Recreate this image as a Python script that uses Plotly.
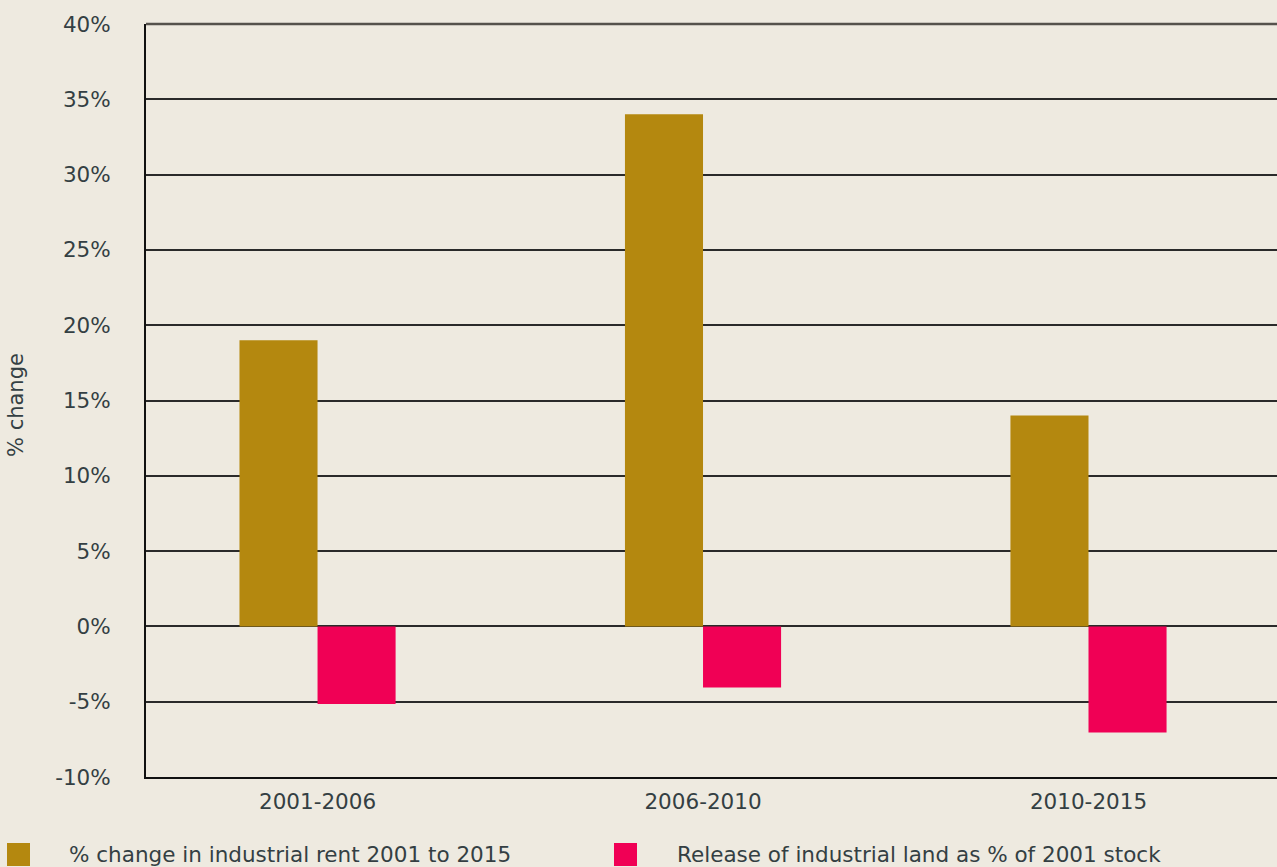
import plotly.graph_objects as go

# Periods and the two series (percent)
periods = ["2001-2006", "2006-2010", "2010-2015"]
rent_change = [19.0, 34.0, 14.0]
land_release = [-5.15, -4.05, -7.05]

series_names = [
    "% change in industrial rent 2001 to 2015",
    "Release of industrial land as % of 2001 stock",
]
y_ticks = [-10, -5, 0, 5, 10, 15, 20, 25, 30, 35, 40]
y_tick_text = [f"{v}%" for v in y_ticks]
y_title = "% change"

GOLD = "#b4880f"
PINK = "#f00055"
BG = "#eeeae0"
TEXT = "#343f43"
GRID = "#2a2a2a"
FONT = "DejaVu Sans"

W, H = 1277, 867
M_L, M_R, M_T, M_B = 146, 0, 24, 90
PW, PH = W - M_L - M_R, H - M_T - M_B


def px_x(px):
    return (px - M_L) / PW


def px_y(py):
    return (H - M_B - py) / PH


fig = go.Figure()
fig.add_trace(go.Bar(x=periods, y=rent_change, name=series_names[0],
                     marker=dict(color=GOLD, line=dict(width=0))))
fig.add_trace(go.Bar(x=periods, y=land_release, name=series_names[1],
                     marker=dict(color=PINK, line=dict(width=0))))

# Legend drawn beneath the plot: colour swatch + label
legend_items = [(GOLD, 7, 67, series_names[0]), (PINK, 614, 675, series_names[1])]
shapes = []
annotations = []
for color, sx, tx, label in legend_items:
    shapes.append(dict(type="rect", xref="paper", yref="paper",
                       x0=px_x(sx), x1=px_x(sx + 23), y0=px_y(866), y1=px_y(843),
                       fillcolor=color, line=dict(width=0), layer="above"))
    annotations.append(dict(text=label, xref="paper", yref="paper",
                            x=px_x(tx), y=px_y(855), xanchor="left", yanchor="middle",
                            showarrow=False, font=dict(family=FONT, size=21.5, color=TEXT)))

# Rotated axis title at the far left
annotations.append(dict(text=y_title, xref="paper", yref="paper",
                        x=px_x(16), y=px_y(405), xanchor="center", yanchor="middle",
                        textangle=-90, showarrow=False,
                        font=dict(family=FONT, size=21, color=TEXT)))

# Top border line of the plot area
shapes.append(dict(type="line", xref="paper", yref="paper", x0=0, x1=1, y0=1, y1=1,
                   line=dict(color="#55524c", width=2.5), layer="below"))

fig.update_layout(
    width=W, height=H,
    margin=dict(l=M_L, r=M_R, t=M_T, b=M_B),
    paper_bgcolor=BG, plot_bgcolor=BG,
    barmode="group", bargap=0.595, bargroupgap=0,
    showlegend=False,
    font=dict(family=FONT, size=22, color=TEXT),
    shapes=shapes, annotations=annotations,
    xaxis=dict(
        type="category", range=[-0.445, 2.489],
        showgrid=False, zeroline=False,
        showline=True, linecolor="#111111", linewidth=2,
        ticks="", ticklabelstandoff=4,
        tickfont=dict(family=FONT, size=21.5, color=TEXT),
    ),
    yaxis=dict(
        range=[-10, 40], tickvals=y_ticks, ticktext=y_tick_text,
        showgrid=True, gridcolor=GRID, gridwidth=1.6,
        zeroline=False,
        showline=True, linecolor="#111111", linewidth=2,
        ticks="", ticklabelstandoff=29,
        tickfont=dict(family=FONT, size=21.5, color=TEXT),
    ),
)

fig.write_html("out.html")
